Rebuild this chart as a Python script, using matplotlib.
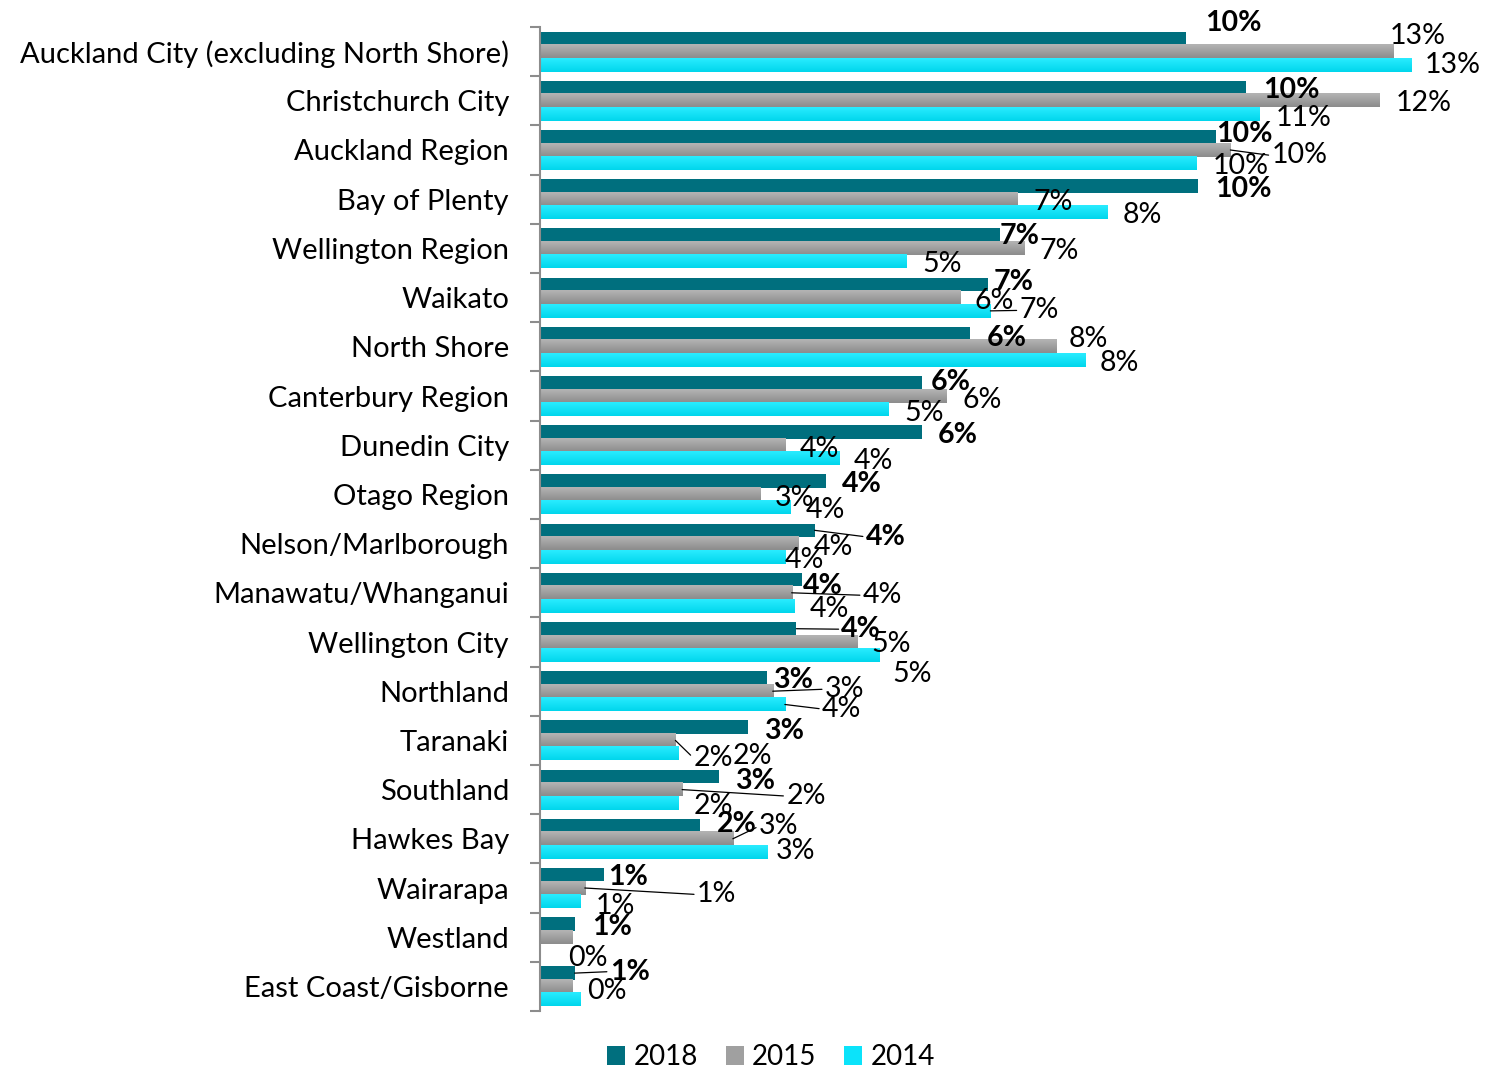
import numpy as np
import matplotlib
matplotlib.use("Agg")
import matplotlib.pyplot as plt
from matplotlib.patches import Patch
from matplotlib.colors import LinearSegmentedColormap

# ---------------- data ----------------
categories = [
    "Auckland City (excluding North Shore)", "Christchurch City", "Auckland Region",
    "Bay of Plenty", "Wellington Region", "Waikato", "North Shore", "Canterbury Region",
    "Dunedin City", "Otago Region", "Nelson/Marlborough", "Manawatu/Whanganui",
    "Wellington City", "Northland", "Taranaki", "Southland", "Hawkes Bay",
    "Wairarapa", "Westland", "East Coast/Gisborne",
]
series_names = ["2018", "2015", "2014"]
v2018 = [9.56, 10.45, 10.00, 9.74, 6.81, 6.64, 6.37, 5.66, 5.66, 4.24,
         4.07, 3.89, 3.80, 3.36, 3.09, 2.65, 2.38, 0.96, 0.52, 0.52]
v2015 = [12.62, 12.42, 10.22, 7.07, 7.17, 6.22, 7.64, 6.01, 3.63, 3.26,
         3.83, 3.73, 4.69, 3.45, 2.01, 2.11, 2.86, 0.67, 0.48, 0.48]
v2014 = [12.89, 10.64, 9.71, 8.39, 5.42, 6.67, 8.07, 5.16, 4.43, 3.71,
         3.63, 3.76, 5.02, 3.63, 2.05, 2.05, 3.37, 0.60, np.nan, 0.60]

# ---------------- layout / style ----------------
FONT = ["Lato", "DejaVu Sans"]
plt.rcParams["font.family"] = FONT
C2018 = "#006F7E"
C2015 = "#A0A0A0"
C2014 = "#0BE3FA"
grad2015 = LinearSegmentedColormap.from_list("g15", ["#B4B4B4", "#8C8C8C"])
grad2014 = LinearSegmentedColormap.from_list("g14", ["#2AECFF", "#00D6EC"])
CAT_FS = 21
LAB_FS = 20.5
DY_ALL = 2.5

# label offsets (pixels, dx to right of bar end to label left edge, dy downward)
off2018 = [(19, -18), (17, 0), (1, -5), (17, 1), (0, -2), (5, -5), (17, 2), (9, -3),
           (16, 1), (16, 0.5), (51, 4), (0, 3.5), (45, -2), (6, 0), (16, 1), (16, 2),
           (16, -4), (4, 0), (17, 1), (35, -4)]
off2015 = [(-3, -18), (17, 0), (41, 3), (16, 0), (15, 0), (15, 1), (13, -10), (17, 1),
           (15, 1.5), (15, 1), (15, 0.5), (71, 0), (15, 0), (52, -4.5), (18, 15),
           (104, 4), (26, -15), (112, 4), (-4, 18), (15, 2)]
off2014 = [(14, -2), (17, 1), (17, 0), (16, 0), (16, 0), (29, -3), (15, 0), (16, 1),
           (15, 0), (15, 0), (0, 1), (16, 0.5), (13, 16), (37, 2), (55, 0), (16, 0.5),
           (8, -4), (16, 2), None, None]
leaders = {("2015", 2), ("2014", 5), ("2018", 10), ("2015", 11), ("2018", 12),
           ("2015", 13), ("2014", 13), ("2015", 14), ("2015", 15), ("2015", 16),
           ("2015", 17), ("2018", 19)}

W, H, DPI = 1490, 1071, 100
fig = plt.figure(figsize=(W / DPI, H / DPI), dpi=DPI)
ax_left, ax_right = 539.5 / W, 1475 / W
ax_top, ax_bot = 1 - 27 / H, 1 - 1011 / H
ax = fig.add_axes([ax_left, ax_bot, ax_right - ax_left, ax_top - ax_bot])

n = len(categories)
y = np.arange(n)
bh = 0.27
XMAX = (1475 - 539.5) / 67.6

vals = [v2018, v2015, v2014]
colors = [C2018, C2015, C2014]
offsets = [off2018, off2015, off2014]
containers = []
for k, (v, c) in enumerate(zip(vals, colors)):
    cont = ax.barh(y + (k - 1) * bh, v, height=bh, color=c, linewidth=0, zorder=2)
    containers.append(cont)

# gradients for 2015 and 2014
for cont, cmap in [(containers[1], grad2015), (containers[2], grad2014)]:
    grad = np.linspace(0, 1, 64).reshape(-1, 1)
    for p in cont.patches:
        w = p.get_width()
        if not np.isfinite(w) or w <= 0:
            continue
        x0, y0, h = p.get_x(), p.get_y(), p.get_height()
        ax.imshow(grad, cmap=cmap, aspect="auto", origin="upper",
                  extent=(x0, x0 + w, y0 + h, y0), zorder=2.5, interpolation="bilinear")

ax.set_xlim(0, XMAX)
ax.set_ylim(n - 0.5, -0.5)

# axes styling
for s in ["top", "right", "bottom"]:
    ax.spines[s].set_visible(False)
ax.spines["left"].set_color("#8C8C8C")
ax.spines["left"].set_linewidth(1.5)
ax.set_xticks([])
ax.set_yticks(y)
ax.set_yticklabels(categories, fontsize=CAT_FS, color="black")
ax.tick_params(axis="y", which="major", length=0, pad=22)
ax.set_yticks(np.arange(-0.5, n, 1.0), minor=True)
ax.tick_params(axis="y", which="minor", length=7.5, width=1.5, color="#8C8C8C", direction="out")

# data labels
for k, name in enumerate(series_names):
    v = vals[k]
    cont = containers[k]
    for i, p in enumerate(cont.patches):
        off = offsets[k][i]
        if off is None or not np.isfinite(v[i]):
            continue
        dx, dy = off
        xe = p.get_x() + p.get_width()
        ye = p.get_y() + p.get_height() / 2
        kw = {}
        if (name, i) in leaders:
            kw["arrowprops"] = dict(arrowstyle="-", color="black", lw=0.9,
                                    shrinkA=0, shrinkB=0, relpos=(0, 0.5))
        ax.annotate(f"{v[i]:.0f}%", xy=(xe, ye), xytext=(dx, -(dy + DY_ALL)),
                    textcoords="offset pixels", ha="left", va="center",
                    fontsize=LAB_FS, fontweight="bold" if name == "2018" else "normal",
                    color="black", annotation_clip=False, zorder=5, **kw)

handles = [Patch(facecolor=c, edgecolor="none") for c in colors]
fig.legend(handles, series_names, loc="center", bbox_to_anchor=(771 / W, 1 - 1057 / H),
           ncol=3, frameon=False, fontsize=20, handlelength=0.65, handleheight=0.65,
           handletextpad=0.3, columnspacing=1.0)

fig.savefig("out.png", dpi=DPI)
